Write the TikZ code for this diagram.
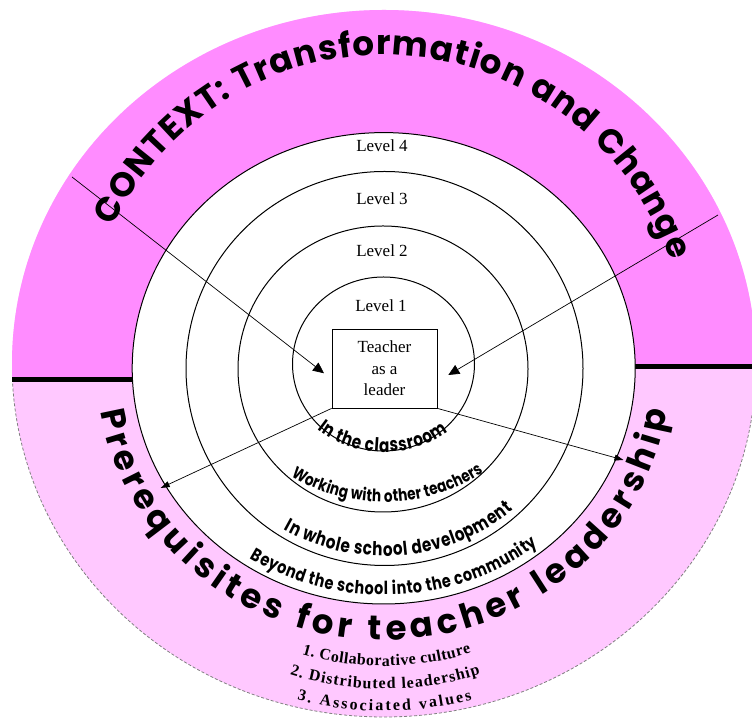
\documentclass[tikz,border=0pt]{standalone}
\usepackage{fontspec}
\setmainfont{Liberation Serif}
\newfontfamily\bandface{Poppins}
\newfontfamily\ringface{Poppins}[FakeStretch=0.8]
\usetikzlibrary{arrows.meta,decorations.text}

\definecolor{ctxpink}{RGB}{255,140,255}
\definecolor{prepink}{RGB}{255,200,255}

\newcommand{\bandtxt}{\bandface\bfseries\fontsize{34}{34}\selectfont}
\newcommand{\listtxt}{\bfseries\fontsize{16}{16}\selectfont}
\newcommand{\lvltxt}{\fontsize{17}{21.5}\selectfont}

\tikzset{
  ring/.style={line width=1pt},
  inarrow/.style={-{Triangle[length=11pt,width=10pt]}, line width=0.7pt},
  outarrow/.style={-{Triangle[length=9pt,width=6pt]}, line width=0.7pt},
  curvetext/.style={decorate, decoration={text along path, text align=fit to path, text={#1}}},
}

\begin{document}
\begin{tikzpicture}[x=1pt,y=1pt]
    \useasboundingbox (0,0) rectangle (752,719);
    \coordinate (ctr) at (384,350.5);
    % outer band, dark above and light below
    \fill[prepink] (384,355.5) ellipse [x radius=372, y radius=353.5];
    \begin{scope}
        \clip (0,339) -- (384,339) -- (384,352.5) -- (752,352.5) -- (752,719) -- (0,719) -- cycle;
        \fill[ctxpink] (384,355.5) ellipse [x radius=372, y radius=353.5];
    \end{scope}
    \begin{scope}
        \clip (0,339) -- (384,339) -- (384,352.5) -- (752,352.5) -- (752,0) -- (0,0) -- cycle;
        \draw[gray, dash pattern=on 3pt off 2pt, line width=0.8pt] (384,355.5) ellipse [x radius=372, y radius=353.5];
    \end{scope}
    \draw[line width=5pt] (12,339) -- (134,339);
    \draw[line width=5pt] (634,352.5) -- (752,352.5);
    % the four levels
    \filldraw[ring, fill=white] (383.7,350.7) ellipse [x radius=251.5, y radius=235.7];
    \draw[ring] (384.5,350.5) ellipse [x radius=198.5, y radius=197];
    \draw[ring] (383,350) ellipse [x radius=145, y radius=143];
    \draw[ring] (383.5,355) ellipse [x radius=91, y radius=87];
    \node[font=\lvltxt] (lvl4) at (382,573) {Level 4};
    \node[font=\lvltxt] (lvl3) at (382,520) {Level 3};
    \node[font=\lvltxt] (lvl2) at (382,468) {Level 2};
    \node[font=\lvltxt] (lvl1) at (381,413) {Level 1};
    \node[draw, line width=0.8pt, minimum width=105, minimum height=79, align=center, font=\lvltxt] (teacher) at (384.5,350.5) {Teacher\\as a\\leader};
    % arrows
    \coordinate (ctxL) at (72,542);
    \coordinate (hitL) at (324,345.7);
    \coordinate (ctxR) at (718,504);
    \coordinate (hitR) at (448.3,344);
    \coordinate (preL) at (160.7,231);
    \coordinate (preR) at (623.5,259);
    \draw[inarrow] (ctxL) -- (hitL);
    \draw[inarrow] (ctxR) -- (hitR);
    \draw[outarrow] (teacher.south west) -- (preL);
    \draw[outarrow] (teacher.south east) -- (preR);
    % curved texts
    \path[curvetext={|\bandtxt|CONTEXT: Transformation and Change}] ([shift={(153:305 and 313.5)}]ctr) arc[start angle=153, end angle=20, x radius=305, y radius=313.5];
    \path[curvetext={|\bandtxt|Prerequisites for teacher leadership}] ([shift={(189:287 and 271.5)}]ctr) arc[start angle=189, end angle=351, x radius=287, y radius=271.5];
    \path[curvetext={|\ringface\bfseries\fontsize{19}{19}\selectfont|In the classroom}] ([shift={(227:98 and 83.5)}]ctr) arc[start angle=227, end angle=311, x radius=98, y radius=83.5];
    \path[curvetext={|\ringface\bfseries\fontsize{17}{17}\selectfont|Working with other teachers}] ([shift={(233.6:157 and 133.5)}]ctr) arc[start angle=233.6, end angle=309.2, x radius=157, y radius=133.5];
    \path[curvetext={|\ringface\bfseries\fontsize{19}{19}\selectfont|In whole school development}] ([shift={(239.4:197 and 187.5)}]ctr) arc[start angle=239.4, end angle=311, x radius=197, y radius=187.5];
    \path[curvetext={|\ringface\bfseries\fontsize{18}{18}\selectfont|Beyond the school into the community}] ([shift={(236.8:245 and 226.5)}]ctr) arc[start angle=236.8, end angle=308.8, x radius=245, y radius=226.5];
    \path[curvetext={|\listtxt|1. Collaborative culture}] ([shift={(254:297.5)}]ctr) arc[start angle=254, end angle=287, radius=297.5];
    \path[curvetext={|\listtxt|2. Distributed leadership}] ([shift={(252.9:320.5)}]ctr) arc[start angle=252.9, end angle=287.5, radius=320.5];
    \path[curvetext={|\listtxt|3. Associated values}] ([shift={(255.3:342.5)}]ctr) arc[start angle=255.3, end angle=284.9, radius=342.5];
\end{tikzpicture}
\end{document}
